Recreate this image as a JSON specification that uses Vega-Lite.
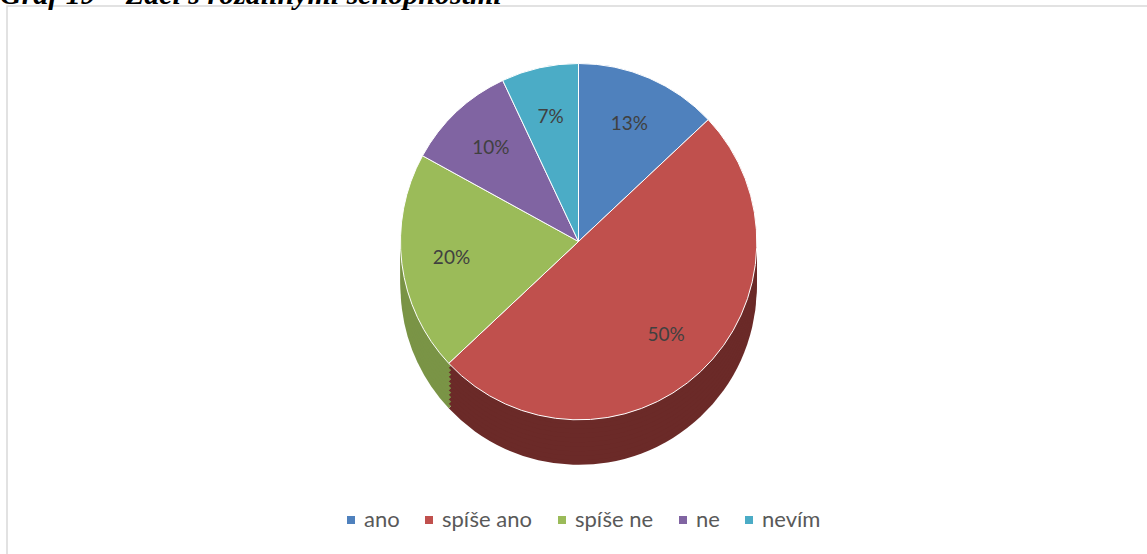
{
  "$schema": "https://vega.github.io/schema/vega-lite/v6.json",
  "width": 1147,
  "height": 554,
  "autosize": {"type": "fit", "contains": "padding"},
  "padding": {"left": 0, "top": -20, "right": -3, "bottom": -3},
  "background": "white",
  "view": {"stroke": "#d9d9d9", "strokeWidth": 1.5},
  "title": {
    "text": "Graf 19 – Žáci s rozdílnými schopnostmi",
    "font": "Liberation Serif",
    "fontSize": 30,
    "fontStyle": "italic",
    "fontWeight": "bold",
    "color": "#000000",
    "anchor": "start",
    "dx": -7,
    "offset": -4
  },
  "config": {"view": {"stroke": "#d9d9d9", "strokeWidth": 1.5}},
  "data": {
    "values": [
      {"idx": 1, "kat": "ano", "value": 13, "label": "13%"},
      {"idx": 2, "kat": "spíše ano", "value": 50, "label": "50%"},
      {"idx": 3, "kat": "spíše ne", "value": 20, "label": "20%"},
      {"idx": 4, "kat": "ne", "value": 10, "label": "10%"},
      {"idx": 5, "kat": "nevím", "value": 7, "label": "7%"}
    ]
  },
  "encoding": {
    "theta": {"field": "value", "type": "quantitative", "stack": true},
    "order": {"field": "idx", "type": "quantitative"}
  },
  "layer": [
    {
      "encoding": {
        "color": {
          "field": "kat",
          "type": "nominal",
          "legend": null,
          "scale": {
            "domain": ["ano", "spíše ano", "spíše ne", "ne", "nevím"],
            "range": ["#2f4d72", "#6b2a28", "#7a9446", "#4f3d66", "#2f7082"]
          }
        }
      },
      "layer": [
        {"mark": {"type": "arc", "outerRadius": 178, "yOffset": 5}},
        {"mark": {"type": "arc", "outerRadius": 178, "yOffset": 0.5}},
        {"mark": {"type": "arc", "outerRadius": 178, "yOffset": -4}},
        {"mark": {"type": "arc", "outerRadius": 178, "yOffset": -8.5}},
        {"mark": {"type": "arc", "outerRadius": 178, "yOffset": -13}},
        {"mark": {"type": "arc", "outerRadius": 178, "yOffset": -17.5}},
        {"mark": {"type": "arc", "outerRadius": 178, "yOffset": -22}},
        {"mark": {"type": "arc", "outerRadius": 178, "yOffset": -26.5}},
        {"mark": {"type": "arc", "outerRadius": 178, "yOffset": -31}},
        {"mark": {"type": "arc", "outerRadius": 178, "yOffset": -35.5}}
      ]
    },
    {
      "mark": {"type": "arc", "outerRadius": 178, "yOffset": -40, "stroke": "white", "strokeWidth": 1},
      "encoding": {
        "color": {
          "field": "kat",
          "type": "nominal",
          "scale": {
            "domain": ["ano", "spíše ano", "spíše ne", "ne", "nevím"],
            "range": ["#4f81bd", "#c0504d", "#9bbb59", "#8064a2", "#4bacc6"]
          },
          "legend": {
            "title": null,
            "orient": "none",
            "legendX": 333,
            "legendY": 503,
            "direction": "horizontal",
            "symbolType": "square",
            "symbolSize": 64,
            "symbolStrokeWidth": 0,
            "labelFont": "Lato",
            "labelFontSize": 22,
            "labelColor": "#595959",
            "columnPadding": 18,
            "labelOffset": 2
          }
        }
      }
    },
    {
      "mark": {"type": "text", "radius": 128, "yOffset": -40, "font": "Lato", "fontSize": 19, "color": "#404040"},
      "encoding": {"text": {"field": "label", "type": "nominal"}}
    }
  ],
  "resolve": {"scale": {"color": "independent"}}
}
